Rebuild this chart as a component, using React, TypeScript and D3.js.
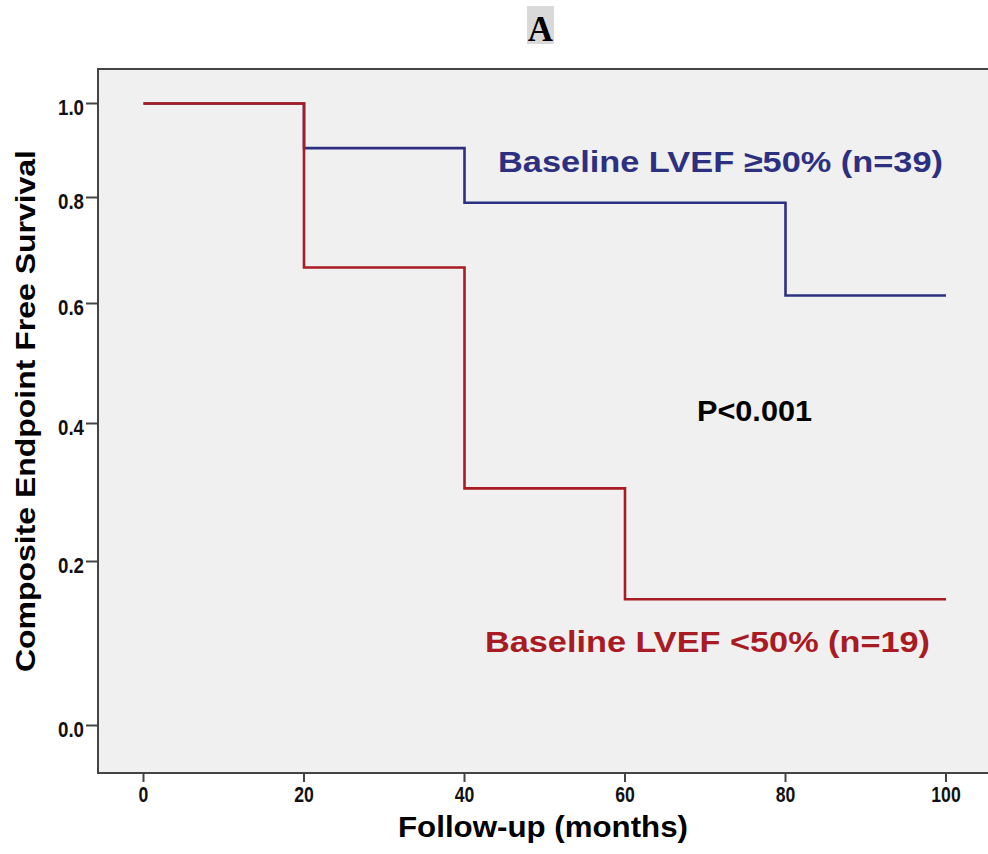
import React from 'react';
import * as d3 from 'd3';

// values
const yTicks = [0, 0.2, 0.4, 0.6, 0.8, 1.0];
const xTicks = [0, 20, 40, 60, 80, 100];

const preservedMonths = [0, 20, 40, 80, 100];
const preservedSurvival = [1.0, 0.905, 0.79, 0.615, 0.615];

const reducedMonths = [0, 20, 40, 60, 100];
const reducedSurvival = [1.0, 0.668, 0.306, 0.154, 0.154];

const panelLabel = 'A';
const xTitle = 'Follow-up (months)';
const yTitle = 'Composite Endpoint Free Survival';
const preservedLabel = 'Baseline LVEF \u226550% (n=39)';
const reducedLabel = 'Baseline LVEF <50% (n=19)';
const pLabel = 'P<0.001';

const W = 988,
  H = 854;
const frame = { left: 98, top: 69, right: 992, bottom: 773 };

const BLUE = '#2d3081';
const RED = '#a91b22';
const sans = 'Arial, "Liberation Sans", sans-serif';

export default function App() {
  const x = d3.scaleLinear().domain([0, 100]).range([143.5, 946]);
  // SPSS axis is not evenly spaced, so map each tick piecewise
  const y = d3
    .scaleLinear()
    .domain(yTicks)
    .range([725.5, 561.5, 423.5, 303.5, 197.5, 103.5]);

  const line = d3
    .line<[number, number]>()
    .curve(d3.curveStepAfter)
    .x(d => x(d[0]))
    .y(d => y(d[1]));

  const blue = preservedMonths.map((m, i) => [m, preservedSurvival[i]] as [number, number]);
  const red = reducedMonths.map((m, i) => [m, reducedSurvival[i]] as [number, number]);

  return (
    <div style={{ position: 'absolute', left: 0, top: 0 }}>
      <svg width={W} height={H} style={{ display: 'block', background: '#fff' }}>
        {/* panel letter */}
        <rect x={527} y={6} width={27} height={38} fill="#d9d9d9" />
        <text
          x={540.5}
          y={41}
          textAnchor="middle"
          fontFamily='"Liberation Serif", "Times New Roman", serif'
          fontWeight="bold"
          fontSize={35}
          fill="#000"
        >
          {panelLabel}
        </text>

        {/* plot area */}
        <rect
          x={frame.left}
          y={frame.top}
          width={frame.right - frame.left}
          height={frame.bottom - frame.top}
          fill="#f0f0f0"
          stroke="#444"
          strokeWidth={2}
        />

        {/* y axis */}
        {yTicks.map(t => (
          <g key={'y' + t}>
            <line x1={86} x2={frame.left} y1={y(t)} y2={y(t)} stroke="#444" strokeWidth={2} />
            <text
              transform={`translate(84,${y(t) + 11}) scale(0.85,1)`}
              textAnchor="end"
              fontFamily={sans}
              fontWeight="bold"
              fontSize={22}
              fill="#111"
            >
              {t.toFixed(1)}
            </text>
          </g>
        ))}

        {/* x axis */}
        {xTicks.map(t => (
          <g key={'x' + t}>
            <line x1={x(t)} x2={x(t)} y1={frame.bottom} y2={782} stroke="#444" strokeWidth={2} />
            <text
              transform={`translate(${x(t)},802) scale(0.8,1)`}
              textAnchor="middle"
              fontFamily={sans}
              fontWeight="bold"
              fontSize={22}
              fill="#111"
            >
              {t}
            </text>
          </g>
        ))}

        {/* survival curves */}
        <path d={line(blue) || ''} fill="none" stroke={BLUE} strokeWidth={2.6} />
        <path d={line(red) || ''} fill="none" stroke={RED} strokeWidth={2.6} />

        {/* annotations */}
        <text
          x={498}
          y={172}
          fontFamily={sans}
          fontWeight="bold"
          fontSize={30}
          fill={BLUE}
          textLength={445}
          lengthAdjust="spacingAndGlyphs"
        >
          {preservedLabel}
        </text>
        <text
          x={485}
          y={652}
          fontFamily={sans}
          fontWeight="bold"
          fontSize={30}
          fill={RED}
          textLength={445}
          lengthAdjust="spacingAndGlyphs"
        >
          {reducedLabel}
        </text>
        <text
          x={697}
          y={421}
          fontFamily={sans}
          fontWeight="bold"
          fontSize={30}
          fill="#000"
          textLength={115}
          lengthAdjust="spacingAndGlyphs"
        >
          {pLabel}
        </text>

        {/* axis titles */}
        <text
          x={398}
          y={837}
          fontFamily={sans}
          fontWeight="bold"
          fontSize={30}
          fill="#000"
          textLength={290}
          lengthAdjust="spacingAndGlyphs"
        >
          {xTitle}
        </text>
        <text
          transform="translate(35,672) rotate(-90)"
          fontFamily={sans}
          fontWeight="bold"
          fontSize={28}
          fill="#000"
          textLength={522}
          lengthAdjust="spacingAndGlyphs"
        >
          {yTitle}
        </text>
      </svg>
    </div>
  );
}
